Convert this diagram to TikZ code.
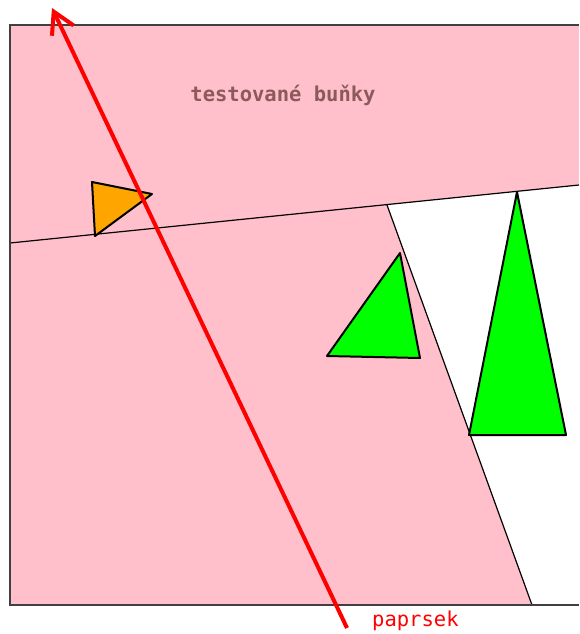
\documentclass[tikz,border=0pt]{standalone}
\usepackage{fontspec}
\newfontfamily\monofont{DejaVu Sans Mono}
\usetikzlibrary{arrows.meta}
\definecolor{cellpink}{RGB}{255,192,203}
\definecolor{trigreen}{RGB}{0,255,0}
\definecolor{triorange}{RGB}{255,165,0}
\definecolor{labelbrown}{RGB}{140,90,90}
\begin{document}
\begin{tikzpicture}[
        x=1pt,
        y=-1pt,
        frame/.style={draw=black!75, line width=2pt},
        border/.style={draw=black, line width=1.2pt},
        tri/.style={draw=black, line width=2pt, line join=round},
        ray/.style={red, line width=4pt, -{Straight Barb[length=21pt,width=24pt]}},
        every node/.style={font=\monofont, inner sep=0pt}
      ]
      \useasboundingbox (0, 0) rectangle (579, 634);

      % --- 1. buňky ---
      \fill[cellpink] (10, 25) rectangle (579, 605);
      \fill[white] (387, 205) -- (579, 185) -- (579, 605) -- (532, 605) -- cycle;

      % hranice buněk
      \draw[border] (10, 243) -- (579, 185);
      \draw[border] (387, 205) -- (532, 605);

      % rámeček
      \draw[frame] (579, 25) -- (10, 25) -- (10, 605) -- (579, 605);

      % --- 2. trojúhelníky ---
      \filldraw[tri, fill=triorange] (92, 182) -- (152, 194) -- (95, 236) -- cycle;
      \filldraw[tri, fill=trigreen] (400, 253) -- (420, 358) -- (327, 356) -- cycle;
      \filldraw[tri, fill=trigreen] (517, 192) -- (566, 435) -- (469, 435) -- cycle;

      % --- 3. popisky ---
      \node[labelbrown, font=\monofont\bfseries\fontsize{20.5}{24}\selectfont] (cells) at (283, 95) {testované buňky};

      % --- 4. paprsek ---
      \coordinate (raystart) at (347, 628);
      \coordinate (rayend) at (52, 8);
      \draw[ray] (raystart) -- (rayend);
      \node[red, anchor=west, font=\monofont\fontsize{20.5}{24}\selectfont] (raylabel) at (372, 621) {paprsek};

    \end{tikzpicture}
\end{document}
